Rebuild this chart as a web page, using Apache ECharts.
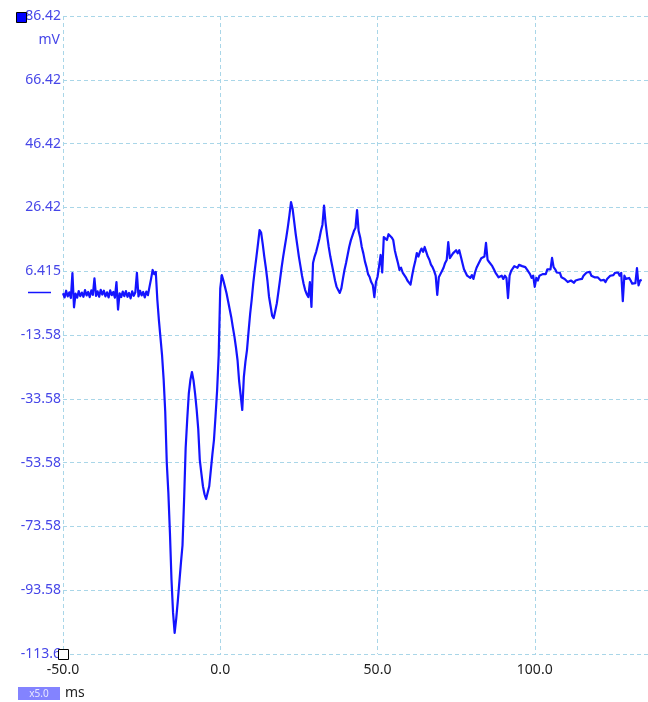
<!DOCTYPE html>
<html>
<head>
<meta charset="utf-8">
<script src="https://cdn.jsdelivr.net/npm/echarts@6/dist/echarts.min.js"></script>
<style>
  html, body { margin: 0; padding: 0; background: #ffffff; }
  #chart { width: 648px; height: 702px; }
</style>
</head>
<body>
<div id="chart"></div>
<script>
// ---- data ----
var startMs = -50;          // time of first sample (ms)
var sampleMs = 0.5;         // sample spacing (ms)
var traceMv = [
  -0.5, -1.8, 0.3, -1.5, -0.2, -2.0, 5.8, -4.9, -0.6, -1.9,
  0.2, -1.4, -0.3, -1.6, 0.5, -1.2, -0.1, -1.7, 0.4, -1.0,
  4.2, -1.3, 0.1, -1.6, 0.6, -0.9, 0.3, -1.5, -0.2, -1.8,
  0.4, -1.1, -0.1, -1.9, 3.0, -5.6, -0.5, -1.7, 0.0, -1.4,
  0.2, -1.6, -0.4, -2.1, 0.1, -1.3, -0.2, 5.9, -1.5, 0.3,
  -1.2, -0.1, -1.8, 0.0, -1.1, 1.5, 4.0, 6.8, 5.5, 6.2,
  -2.6, -9.0, -14.5, -20.0, -27.5, -37.5, -53.7, -63.0, -75.6, -90.4,
  -100.7, -107.0, -102.5, -97.0, -91.0, -85.0, -79.5, -65.3, -49.0, -40.0,
  -32.0, -27.7, -25.2, -27.8, -32.0, -37.0, -43.0, -52.8, -57.0, -61.0,
  -63.5, -65.0, -64.5, -61.0, -56.0, -51.0, -46.5, -39.0, -31.0, -20.0,
  1.0, 5.2, 3.5, 1.5, -0.5, -3.0, -5.5, -8.0, -11.1, -14.0,
  -17.5, -21.5, -28.0, -32.5, -37.1, -26.8, -22.0, -18.3, -12.5, -7.0,
  -2.5, 2.7, 7.0, 10.9, 15.0, 19.3, 18.5, 15.0, 11.0, 7.5,
  3.5, -1.5, -4.5, -7.5, -8.3, -6.0, -3.6, 0.0, 3.7, 7.5,
  10.9, 14.0, 17.0, 20.3, 24.0, 28.1, 26.0, 22.0, 18.0, 14.5,
  11.0, 8.0, 5.0, 2.5, 0.5, -0.8, -1.7, 3.0, -4.8, 9.0,
  11.0, 12.5, 14.5, 16.5, 19.0, 21.0, 27.0, 21.5, 17.5, 14.0,
  11.0, 8.5, 6.0, 3.5, 1.5, 0.5, -0.4, 1.0, 4.0, 6.8,
  9.0, 11.5, 14.0, 16.0, 17.5, 19.0, 20.0, 25.6, 19.0, 17.0,
  14.0, 12.0, 9.5, 7.7, 5.5, 4.6, 3.0, 2.1, -1.7, 3.0,
  4.6, 8.0, 11.5, 6.0, 17.1, 17.5, 16.2, 18.0, 18.4, 17.0,
  16.2, 13.0, 10.9, 9.0, 6.8, 7.5, 6.0, 6.5, 4.5, 3.5,
  3.0, 2.2, 5.0, 7.5, 9.5, 12.1, 11.0, 12.5, 13.5, 12.5,
  14.0, 12.5, 11.0, 10.0, 8.5, 7.7, 6.5, 5.0, -1.0, 4.5,
  5.5, 6.5, 7.5, 9.0, 9.9, 15.5, 10.5, 11.0, 12.0, 12.5,
  13.0, 12.0, 13.0, 11.0, 9.0, 7.0, 6.5, 5.0, 5.5, 4.3,
  5.2, 4.0, 6.0, 7.5, 8.5, 9.0, 10.5, 10.0, 11.0, 15.3,
  10.0, 9.3, 9.0, 8.0, 7.0, 6.0, 5.5, 4.5, 4.3, 5.0,
  4.0, 5.0, 4.3, -2.0, 5.0, 6.5, 7.0, 8.0, 8.4, 7.5,
  8.4, 9.0, 8.0, 8.5, 7.7, 7.0, 6.5, 5.5, 4.3, 5.0,
  1.5, 4.3, 3.5, 5.0, 4.5, 5.5, 6.0, 5.5, 7.0, 6.5,
  7.0, 10.6, 7.7, 7.0, 6.0, 5.5, 5.9, 4.5, 5.0, 4.0,
  3.5, 3.0, 2.5, 3.5, 3.0, 2.8, 3.5, 3.0, 3.8, 3.2,
  4.0, 5.0, 5.5, 6.0, 5.5, 6.2, 5.0, 5.5, 4.5, 5.0,
  4.5, 4.0, 3.5, 3.0, 3.7, 3.0, 4.0, 4.5, 5.0, 5.5,
  5.2, 5.9, 5.5, 6.0, 5.0, 5.9, -3.0, 5.0, 4.0, 3.5,
  4.3, 3.5, 2.5, 3.0, 2.7, 7.4, 2.0, 3.5, 3.7
];
var yTickLabels = ['-113.6', '-93.58', '-73.58', '-53.58', '-33.58', '-13.58', '6.415', '26.42', '46.42', '66.42', '86.42'];
var xTickLabels = ['-50.0', '0.0', '50.0', '100.0', '150.0'];
var yUnit = 'mV';
var xUnit = 'ms';
var zoomText = 'x5.0';

// ---- chart ----
var Y_MIN = -113.585, Y_STEP = 20, Y_MAX = 86.415;
var X_MIN = -50, X_STEP = 50, X_MAX = 150;
var traceData = traceMv.map(function (v, i) { return [startMs + i * sampleMs, v]; });

var chart = echarts.init(document.getElementById('chart'), null, { renderer: 'canvas' });
var gridColor = '#a9d6e8';
var labelBlue = '#4646e8';
var fontFam = '"Noto Sans", "Open Sans", sans-serif';

chart.setOption({
  animation: false,
  backgroundColor: '#ffffff',
  grid: { left: 63, top: 16, width: 629, height: 638, containLabel: false, outerBoundsMode: 'none' },
  xAxis: {
    type: 'value', min: X_MIN, max: X_MAX, interval: X_STEP,
    axisLine: { show: false }, axisTick: { show: false },
    splitLine: { show: true, lineStyle: { color: gridColor, type: [4, 3], width: 1 } },
    axisLabel: {
      color: '#222', fontSize: 14, fontFamily: fontFam, margin: 9,
      formatter: function (v) { return xTickLabels[Math.round((v - X_MIN) / X_STEP)] || ''; }
    }
  },
  yAxis: {
    type: 'value', min: Y_MIN, max: Y_MAX, interval: Y_STEP,
    axisLine: { show: false }, axisTick: { show: false },
    splitLine: { show: true, lineStyle: { color: gridColor, type: [4, 3], width: 1 } },
    axisLabel: {
      color: labelBlue, fontSize: 14, fontFamily: fontFam, margin: 2,
      formatter: function (v) { return yTickLabels[Math.round((v - Y_MIN) / Y_STEP)] || ''; }
    }
  },
  series: [{
    type: 'line', data: traceData, showSymbol: false, symbol: 'none',
    lineStyle: { color: '#1414ff', width: 2.2, join: 'round' }, clip: false, z: 5
  }]
});

var zeroPx = chart.convertToPixel({ yAxisIndex: 0 }, 0);
chart.setOption({
  graphic: [
    { type: 'rect', shape: { x: 16.5, y: 12.5, width: 10, height: 10 }, style: { fill: '#0000ff', stroke: '#000', lineWidth: 1 }, z: 100 },
    { type: 'text', x: 60, y: 33, style: { text: yUnit, fill: labelBlue, font: '14px ' + fontFam, textAlign: 'right' }, z: 100 },
    { type: 'line', shape: { x1: 28, y1: Math.round(zeroPx) + 0.5, x2: 51, y2: Math.round(zeroPx) + 0.5 }, style: { stroke: '#1414ff', lineWidth: 1.5 }, z: 100 },
    { type: 'rect', shape: { x: 58.5, y: 649.5, width: 10, height: 10 }, style: { fill: '#fff', stroke: '#000', lineWidth: 1 }, z: 100 },
    { type: 'rect', shape: { x: 18, y: 687, width: 42, height: 13 }, style: { fill: '#8383ff' }, z: 100 },
    { type: 'text', x: 39, y: 689, style: { text: zoomText, fill: '#e8e8ff', font: '10px ' + fontFam, textAlign: 'center' }, z: 101 },
    { type: 'text', x: 65, y: 686, style: { text: xUnit, fill: '#222', font: '14px ' + fontFam }, z: 100 }
  ]
});
</script>
</body>
</html>
